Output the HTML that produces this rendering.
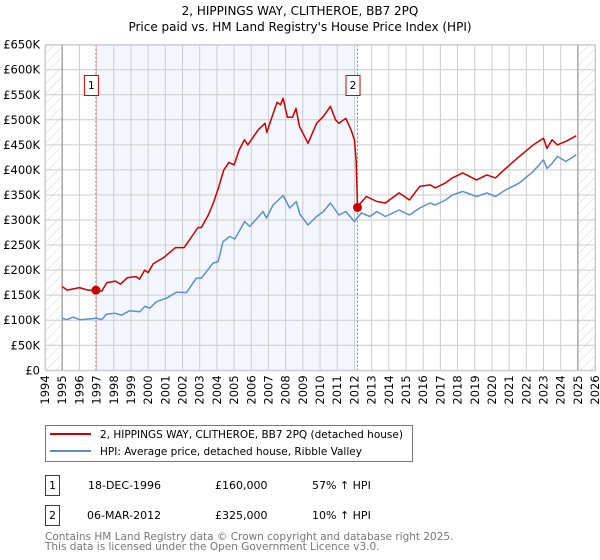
<!DOCTYPE html>
<html><head><meta charset="utf-8"><style>
body{margin:0;background:#fff;font-family:"DejaVu Sans","Liberation Sans",sans-serif;}
svg{display:block}
</style></head><body>
<svg id="c" width="600" height="560" xmlns="http://www.w3.org/2000/svg">
<defs><pattern id="h" width="7" height="7" patternUnits="userSpaceOnUse" patternTransform="rotate(45)"><line x1="0" y1="0" x2="0" y2="7" stroke="#d4d4d4" stroke-width="1"/></pattern></defs>
<text x="300" y="15" text-anchor="middle" font-size="12">2, HIPPINGS WAY, CLITHEROE, BB7 2PQ</text>
<text x="300" y="31" text-anchor="middle" font-size="12">Price paid vs. HM Land Registry's House Price Index (HPI)</text>
<g id="grid"></g><g id="marks"></g><g id="axes"></g>
<g>
<rect x="45.5" y="425.5" width="367" height="36" fill="#fff" stroke="#777"/>
<line x1="50" y1="434" x2="91" y2="434" stroke="#cc0000" stroke-width="2"/>
<text x="100" y="438" font-size="10.5">2, HIPPINGS WAY, CLITHEROE, BB7 2PQ (detached house)</text>
<line x1="50" y1="451" x2="91" y2="451" stroke="#5b8fd0" stroke-width="2"/>
<text x="100" y="455" font-size="10.5">HPI: Average price, detached house, Ribble Valley</text>
</g>
<g font-size="11">
<rect x="45.5" y="475.5" width="14" height="20" fill="#fff" stroke="#cc0000"/><text x="52.5" y="489" text-anchor="middle">1</text>
<text x="88" y="489">18-DEC-1996</text><text x="215" y="489">£160,000</text><text x="312" y="489">57% ↑ HPI</text>
<rect x="45.5" y="505.5" width="14" height="20" fill="#fff" stroke="#cc0000"/><text x="52.5" y="519" text-anchor="middle">2</text>
<text x="87" y="519">06-MAR-2012</text><text x="215" y="519">£325,000</text><text x="312" y="519">10% ↑ HPI</text>
</g>
<text x="45" y="540" font-size="10.5" fill="#777">Contains HM Land Registry data © Crown copyright and database right 2025.</text>
<text x="45" y="550" font-size="10.5" fill="#777">This data is licensed under the Open Government Licence v3.0.</text>
</svg>
<script>
const yTicks=[0,50,100,150,200,250,300,350,400,450,500,550,600,650];
const xYears=[1994,1995,1996,1997,1998,1999,2000,2001,2002,2003,2004,2005,2006,2007,2008,2009,2010,2011,2012,2013,2014,2015,2016,2017,2018,2019,2020,2021,2022,2023,2024,2025,2026];
const hpiT=[1995.0,1995.25,1995.64,1996.03,1997.0,1997.29,1997.58,1998.06,1998.45,1998.93,1999.52,1999.81,2000.1,2000.48,2001.07,2001.65,2002.23,2002.81,2003.1,2003.78,2004.07,2004.36,2004.75,2005.04,2005.62,2005.91,2006.69,2006.88,2007.27,2007.85,2008.24,2008.62,2008.82,2009.3,2009.8,2010.2,2010.6,2011.1,2011.5,2012.0,2012.4,2012.9,2013.3,2013.8,2014.6,2015.2,2015.8,2016.4,2016.7,2017.3,2017.7,2018.3,2019.1,2019.7,2020.2,2020.8,2021.6,2022.4,2023.0,2023.2,2023.5,2023.8,2024.3,2024.9];
const hpiV=[104,101,106,101,104,101,112,114,110,119,117,128,124,137,144,156,155,184,184,214,217,257,267,262,297,287,317,304,330,349,324,337,312,290,307,317,334,310,317,297,314,307,317,307,320,310,324,334,330,340,350,357,347,354,347,360,374,397,420,403,413,427,417,430];
const ppT=[1995.0,1995.3,1996.0,1996.5,1996.96,1997.3,1997.6,1998.1,1998.4,1998.8,1999.3,1999.5,1999.8,2000.0,2000.3,2000.9,2001.6,2002.1,2002.5,2002.9,2003.1,2003.5,2003.8,2004.1,2004.4,2004.7,2005.0,2005.3,2005.6,2005.8,2006.4,2006.8,2006.9,2007.2,2007.5,2007.7,2007.85,2008.1,2008.4,2008.6,2008.8,2009.2,2009.3,2009.8,2010.2,2010.6,2010.9,2011.1,2011.5,2011.8,2012.0,2012.1,2012.18,2012.7,2013.3,2013.8,2014.6,2015.2,2015.8,2016.4,2016.7,2017.3,2017.7,2018.3,2019.1,2019.7,2020.2,2020.8,2021.6,2022.4,2023.0,2023.2,2023.5,2023.8,2024.3,2024.9];
const ppV=[167,160,165,160,160,158,175,178,172,185,187,182,200,195,213,225,245,245,265,285,285,310,335,365,400,415,410,440,460,450,480,493,475,505,535,530,543,505,505,523,487,460,453,493,507,527,500,493,503,480,460,420,327,347,337,334,354,340,367,370,364,374,384,394,380,390,384,403,427,450,463,443,460,450,457,468];
const sales=[[1996.96,160,"1"],[2012.18,325,"2"]];
const NS="http://www.w3.org/2000/svg";
const X0=45,PX=17.19,Y0=370.3,PY=25.05/50;
const xs=t=>X0+(t-1994)*PX, ys=v=>Y0-v*PY;
function mk(tag,a,p){const e=document.createElementNS(NS,tag);for(const k in a)e.setAttribute(k,a[k]);p.appendChild(e);return e;}
const G=document.getElementById('grid'),M=document.getElementById('marks'),A=document.getElementById('axes');
const TOP=ys(650),L=xs(1994),R=xs(2026);
let r=mk('rect',{x:xs(1996.96),y:TOP,width:xs(2012.18)-xs(1996.96),height:Y0-TOP,fill:'#eef3fc',opacity:0.7},G);


r=mk('rect',{x:L,y:TOP,width:xs(1995)-L,height:Y0-TOP,fill:'url(#h)'},G);


r=mk('rect',{x:xs(2025),y:TOP,width:R-xs(2025),height:Y0-TOP,fill:'url(#h)'},G);


yTicks.forEach(v=>{let l=mk('line',{x1:L,x2:R,y1:ys(v),y2:ys(v),stroke:'#ccc'},G);


let t=mk('text',{x:40,y:ys(v)+4,'text-anchor':'end','font-size':'11.5'},A);t.textContent=v===0?'£0':'£'+v+'K';

});
xYears.forEach(y=>{let l=mk('line',{x1:xs(y),x2:xs(y),y1:TOP,y2:Y0,stroke:'#ccc'},G);


let t=mk('text',{x:0,y:0,'text-anchor':'end','font-size':'11.5',transform:`translate(${xs(y)+4},${Y0+5}) rotate(-90)`},A);t.textContent=y;

});
[1995,2025].forEach(y=>{let l=mk('line',{x1:xs(y),x2:xs(y),y1:TOP,y2:Y0,stroke:'#888'},G);

});
sales.forEach(s=>{let l=mk('line',{x1:xs(s[0]),x2:xs(s[0]),y1:TOP,y2:Y0,stroke:'#e06060','stroke-dasharray':'2,2'},G);

});
function path(T,V,c,name){let d=T.map((t,i)=>(i?'L':'M')+xs(t).toFixed(1)+','+ys(V[i]).toFixed(1)).join('');
let p=mk('path',{d:d,fill:'none',stroke:c,'stroke-width':1.5,'stroke-linejoin':'round'},M);

}
path(hpiT,hpiV,'#5b8fd0','hpi-line');
path(ppT,ppV,'#cc0000','price-paid-line');
sales.forEach(s=>{let c=mk('circle',{cx:xs(s[0]),cy:ys(s[1]),r:4.5,fill:'#cc0000'},M);


let b=mk('rect',{x:xs(s[0])-11.5,y:75.5,width:14,height:20,fill:'#fff',stroke:'#cc0000'},M);


let t=mk('text',{x:xs(s[0])-4.5,y:89,'text-anchor':'middle','font-size':'10.5'},M);t.textContent=s[2];

});
let f=mk('rect',{x:L+0.5,y:TOP+0.5,width:R-L,height:Y0-TOP,fill:'none',stroke:'#ccc'},A);


</script>
</body></html>
